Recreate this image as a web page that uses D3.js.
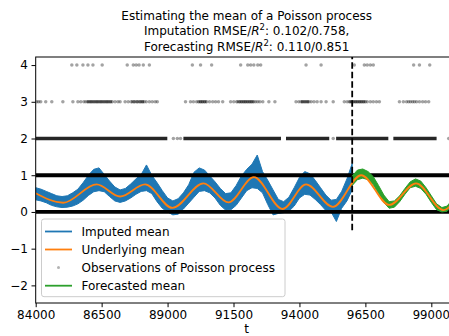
<!DOCTYPE html>
<html><head><meta charset="utf-8">
<script src="https://cdn.jsdelivr.net/npm/d3@7"></script>
<style>body{margin:0;background:#fff} svg{display:block} text{font-family:"DejaVu Sans",sans-serif}</style>
</head><body><svg id="c" width="449" height="336"></svg>
<script>
// ---- data ----
const xTicks = [84000, 86500, 89000, 91500, 94000, 96500, 99000];
const yTicks = [-2, -1, 0, 1, 2, 3, 4];
const forecastStart = 96000;

// underlying mean (turning points of the smooth curve)
const meanT = [84000, 85040, 86310, 87200, 88150, 89180, 90360, 91310, 92270, 93360, 94250, 95270, 96340, 97410, 98420, 99460, 100000];
const meanV = [0.51, 0.25, 0.75, 0.42, 0.75, 0.11, 0.78, 0.26, 0.95, 0.08, 0.75, 0.14, 1.00, 0.19, 0.78, 0.05, 0.42];

// imputed mean: upper / lower envelope sampled every 200 time units from 84000 to 96000
const imputedStep = 200;
const imputedHi = [0.66,0.62,0.56,0.50,0.44,0.42,0.44,0.52,0.62,0.80,1.00,1.16,1.20,1.02,0.84,0.68,0.60,0.64,0.76,0.90,1.02,1.28,1.00,0.80,0.58,0.38,0.30,0.36,0.52,0.74,1.08,1.20,1.14,0.98,0.82,0.64,0.50,0.52,0.72,0.98,1.16,1.30,1.55,1.10,0.86,0.60,0.34,0.28,0.40,0.66,0.94,1.10,1.04,0.86,0.66,0.46,0.32,0.34,0.56,0.90,1.32];
const imputedLo = [0.33,0.30,0.25,0.18,0.14,0.12,0.13,0.16,0.22,0.32,0.45,0.55,0.58,0.55,0.42,0.30,0.26,0.30,0.38,0.48,0.56,0.58,0.50,0.28,0.10,0.00,-0.08,-0.06,0.08,0.24,0.40,0.56,0.58,0.52,0.38,0.18,0.05,0.06,0.18,0.38,0.58,0.66,0.64,0.52,0.20,-0.08,-0.04,-0.02,0.02,0.16,0.38,0.48,0.46,0.34,0.20,0.04,0.00,-0.26,0.10,0.30,0.60];

// forecasted mean: upper / lower envelope every 200 time units from 96000 to 99800
const forecastHi = [0.98,1.14,1.17,1.10,0.96,0.72,0.46,0.28,0.30,0.44,0.64,0.82,0.90,0.84,0.66,0.44,0.22,0.12,0.16,0.34];
const forecastLo = [0.72,0.88,0.92,0.88,0.74,0.50,0.26,0.10,0.13,0.28,0.48,0.66,0.70,0.64,0.48,0.26,0.06,0.00,0.02,0.18];

// observations of the Poisson process
const obsDenseRuns0 = [[84000, 100000]];
const obsDenseRuns1 = [[84000, 100000]];
const obsDenseRuns2 = [[84000, 88990], [89600, 93300], [93490, 95130], [95390, 97370], [97560, 99200]];
const obsDenseRuns3 = [[85940, 86900], [87620, 88110], [90170, 90480], [91620, 92270], [94060, 94360], [95890, 96500]];
const obsPoints2 = [89220, 89370, 89490, 95280, 99660];
const obsPoints3 = [84040,84110,84190,84380,84610,85030,85410,85600,85710,85830,85900,85980,86060,86130,86210,86290,86360,86440,86510,86590,86670,86740,86820,86900,87010,87120,87200,87390,87510,87620,87730,87850,87960,88040,88110,88190,88310,88420,88530,88610,89680,89870,89980,90100,90170,90250,90320,90400,90480,90590,90710,90820,90930,91090,91390,91510,91620,91730,91810,91890,91960,92040,92120,92190,92270,92340,92420,92500,92610,92840,93070,93870,93980,94060,94130,94210,94290,94360,94440,94550,94670,94820,95010,95280,95700,95810,95890,95960,96040,96120,96190,96270,96340,96420,96500,96570,96690,96800,96920,97030,97790,97940,98060,98140,98210,98290,98360,98440,98550,98670,98780,98900];
const obsPoints4 = [85370,85560,85790,85980,86170,86520,87470,87700,87810,87920,88080,88310,89940,90250,90670,91770,92040,92150,92270,92420,92530,94250,94820,96080,96460,96570,96690,96800,98330,98550,98940];

const titleLines = ["Estimating the mean of a Poisson process", ["Imputation RMSE/", "R", "2", ": 0.102/0.758,"], ["Forecasting RMSE/", "R", "2", ": 0.110/0.851"]];
const legendLabels = ["Imputed mean", "Underlying mean", "Observations of Poisson process", "Forecasted mean"];

// ---- chart ----
const C = {blue: "#1f77b4", orange: "#ff7f0e", green: "#2ca02c"};
const svg = d3.select("#c");
const L = 35.7, R = 457.7, T = 57, B = 303;
const x = d3.scaleLinear().domain([84000, 100000]).range([L, R]);
const y = d3.scaleLinear().domain([-2.48, 4.22]).range([B, T]);

svg.append("defs").append("clipPath").attr("id", "clip")
  .append("rect").attr("x", L).attr("y", T).attr("width", R - L).attr("height", B - T);
const plot = svg.append("g").attr("clip-path", "url(#clip)");

// imputed mean band
const impT = imputedHi.map((_, i) => 84000 + i * imputedStep);
const impData = impT.map((t, i) => ({t, hi: imputedHi[i], lo: imputedLo[i]}));
const area = d3.area().x(d => x(d.t)).y0(d => y(d.lo)).y1(d => y(d.hi));
plot.append("path").datum(impData).attr("d", area)
  .attr("fill", C.blue).attr("stroke", C.blue).attr("stroke-width", 1).attr("stroke-linejoin", "miter");

// observations
const obsG = plot.append("g");
[[obsDenseRuns0, 0, 1, 3.8], [obsDenseRuns1, 1, 1, 3.8], [obsDenseRuns2, 2, 0.85, 3.4], [obsDenseRuns3, 3, 0.45, 3.0]].forEach(([runs, lvl, op, w]) => {
  obsG.selectAll(null).data(runs).enter().append("line")
    .attr("x1", d => x(d[0])).attr("x2", d => x(d[1]))
    .attr("y1", y(lvl)).attr("y2", y(lvl))
    .attr("stroke", "#000").attr("stroke-opacity", op).attr("stroke-width", w);
});
[[obsPoints2, 2], [obsPoints3, 3], [obsPoints4, 4]].forEach(([pts, lvl]) => {
  obsG.selectAll(null).data(pts).enter().append("circle")
    .attr("cx", d => x(d)).attr("cy", y(lvl)).attr("r", 1.75)
    .attr("fill", "#000").attr("fill-opacity", 0.36);
});

// forecast band
const fcT = forecastHi.map((_, i) => forecastStart + i * imputedStep);
const fcData = fcT.map((t, i) => ({t, hi: forecastHi[i], lo: forecastLo[i]}));
plot.append("path").datum(fcData).attr("d", area)
  .attr("fill", C.green).attr("stroke", C.green).attr("stroke-width", 1);

// underlying mean
const meanData = meanT.map((t, i) => ({t, v: meanV[i]}));
plot.append("path").datum(meanData)
  .attr("d", d3.line().x(d => x(d.t)).y(d => y(d.v)).curve(d3.curveMonotoneX))
  .attr("fill", "none").attr("stroke", C.orange).attr("stroke-width", 1.8);

// forecast start marker
plot.append("line").attr("x1", x(forecastStart)).attr("x2", x(forecastStart))
  .attr("y1", y(-0.5)).attr("y2", T)
  .attr("stroke", "#000").attr("stroke-width", 1.8).attr("stroke-dasharray", "6.6,2.9");

// axes
const xAxis = svg.append("g").attr("transform", `translate(0,${B})`)
  .call(d3.axisBottom(x).tickValues(xTicks).tickFormat(d3.format("d")).tickSize(4.2).tickSizeOuter(0).tickPadding(3.5));
const yAxis = svg.append("g").attr("transform", `translate(${L},0)`)
  .call(d3.axisLeft(y).tickValues(yTicks).tickFormat(d3.format("d")).tickSize(4.2).tickSizeOuter(0).tickPadding(3.5));
[xAxis, yAxis].forEach(g => {
  g.attr("font-family", "DejaVu Sans").attr("font-size", 12);
  g.selectAll("text").attr("fill", "#000");
  g.selectAll("line").attr("stroke", "#000").attr("stroke-width", 1);
  g.select(".domain").remove();
});
xAxis.selectAll(".tick text").filter(d => d === 99000).attr("font-size", 11.7).attr("dx", -0.6);
svg.append("rect").attr("x", L).attr("y", T).attr("width", R - L).attr("height", B - T)
  .attr("fill", "none").attr("stroke", "#000").attr("stroke-width", 1);

svg.append("text").attr("x", (L + R) / 2).attr("y", 333).attr("text-anchor", "middle")
  .attr("font-size", 12).text("t");

// title
const tl = [19.5, 35.3, 51.1];
titleLines.forEach((ln, i) => {
  const t = svg.append("text").attr("x", (L + R) / 2).attr("y", tl[i]).attr("text-anchor", "middle").attr("font-size", 12);
  if (typeof ln === "string") { t.text(ln); return; }
  t.append("tspan").text(ln[0]);
  t.append("tspan").attr("font-style", "italic").text(ln[1]);
  t.append("tspan").attr("font-size", 8.5).attr("dy", -5).text(ln[2]);
  t.append("tspan").attr("dy", 5).text(ln[3]);
});

// legend
const lg = svg.append("g");
lg.append("rect").attr("x", 41.5).attr("y", 219).attr("width", 243.5).attr("height", 77.7).attr("rx", 2.5)
  .attr("fill", "#fff").attr("fill-opacity", 0.8).attr("stroke", "#ccc").attr("stroke-width", 1);
const ly = [231.5, 249.5, 267.6, 285.7];
const lColors = [C.blue, C.orange, null, C.green];
legendLabels.forEach((lab, i) => {
  if (lColors[i]) {
    lg.append("line").attr("x1", 45).attr("x2", 72).attr("y1", ly[i]).attr("y2", ly[i])
      .attr("stroke", lColors[i]).attr("stroke-width", 1.8);
  } else {
    lg.append("circle").attr("cx", 58.5).attr("cy", ly[i]).attr("r", 1.5).attr("fill", "#000").attr("fill-opacity", 0.3);
  }
  lg.append("text").attr("x", 81.5).attr("y", ly[i] + 4.3).attr("font-size", 12).text(lab);
});
</script></body></html>
